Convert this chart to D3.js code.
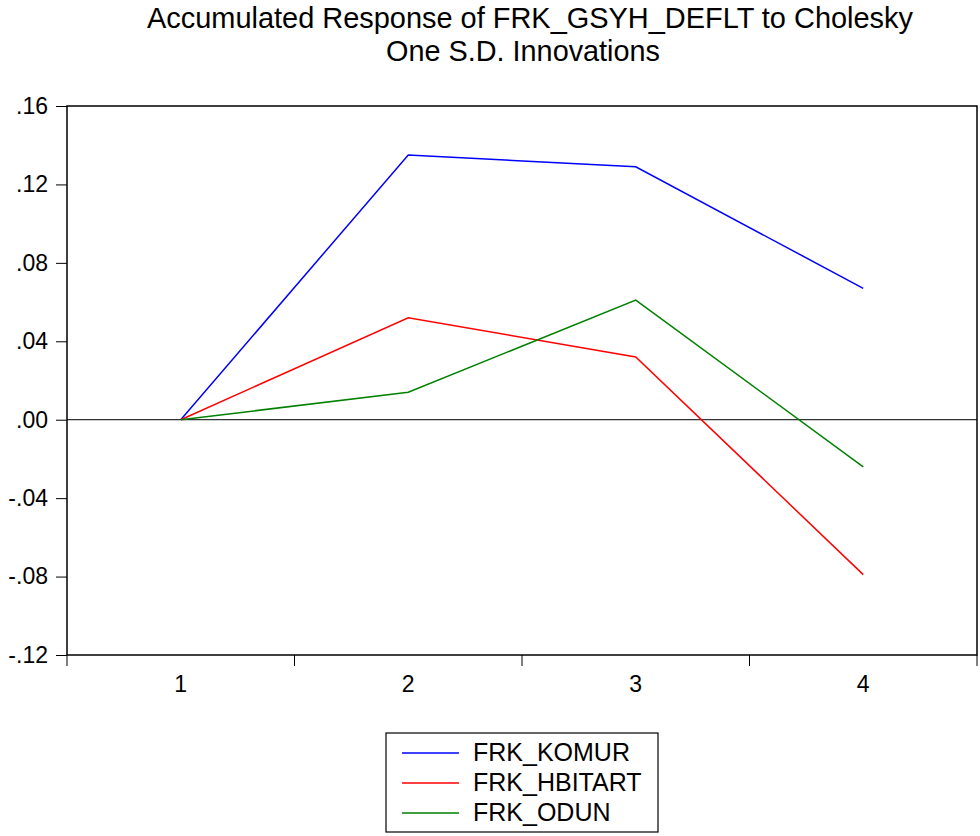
<!DOCTYPE html>
<html>
<head>
<meta charset="utf-8">
<script src="https://cdn.jsdelivr.net/npm/d3@7.9.0/dist/d3.min.js"></script>
<style>
  body { margin: 0; background: #fff; }
  svg { display: block; font-family: "Liberation Sans", Arial, sans-serif; }
</style>
</head>
<body>
<svg id="chart" width="980" height="836"></svg>
<script>
const periods = ["1", "2", "3", "4"];
const komur = [0, 0.135, 0.129, 0.067];
const hbitart = [0, 0.052, 0.032, -0.079];
const odun = [0, 0.014, 0.061, -0.024];
const seriesNames = ["FRK_KOMUR", "FRK_HBITART", "FRK_ODUN"];
const seriesColors = ["#0000ff", "#ff0000", "#008000"];
const yTicks = [-0.12, -0.08, -0.04, 0, 0.04, 0.08, 0.12, 0.16];

const series = [komur, hbitart, odun].map((values, i) => ({
  name: seriesNames[i], color: seriesColors[i], values
}));

const plotLeft = 67, plotRight = 977, plotTop = 106, plotBottom = 655;
const svg = d3.select("#chart");

const x = d3.scaleBand().domain(periods).range([plotLeft, plotRight]);
const y = d3.scaleLinear().domain([-0.12, 0.16]).range([plotBottom, plotTop]);

// title
const title = svg.append("g").attr("font-size", 30).attr("text-anchor", "middle");
title.append("text").attr("x", 530).attr("y", 28)
  .attr("textLength", 766).attr("lengthAdjust", "spacingAndGlyphs")
  .text("Accumulated Response of FRK_GSYH_DEFLT to Cholesky");
title.append("text").attr("x", 523).attr("y", 61)
  .attr("textLength", 274).attr("lengthAdjust", "spacingAndGlyphs")
  .text("One S.D. Innovations");

// zero line
svg.append("line")
  .attr("x1", plotLeft).attr("x2", plotRight)
  .attr("y1", y(0)).attr("y2", y(0))
  .attr("stroke", "#000").attr("stroke-width", 1);

// lines
const line = d3.line()
  .x((d, i) => x(periods[i]) + x.bandwidth() / 2)
  .y(d => y(d));

svg.selectAll("path.series")
  .data(series)
  .join("path")
  .attr("class", "series")
  .attr("d", d => line(d.values))
  .attr("fill", "none")
  .attr("stroke", d => d.color)
  .attr("stroke-width", 1.5);

// frame
svg.append("rect")
  .attr("x", plotLeft).attr("y", plotTop)
  .attr("width", plotRight - plotLeft).attr("height", plotBottom - plotTop)
  .attr("fill", "none").attr("stroke", "#000").attr("stroke-width", 1.5);

// y axis
const fmt = v => d3.format(".2f")(v).replace("−", "-").replace("0.", ".");
const yAxis = d3.axisLeft(y).tickValues(yTicks).tickFormat(fmt).tickSize(11).tickPadding(8);
const gy = svg.append("g").attr("transform", `translate(${plotLeft},0)`).call(yAxis);
gy.attr("font-size", 23).attr("font-family", null);
gy.select(".domain").remove();
gy.selectAll("line").attr("stroke", "#000").attr("stroke-width", 1);
gy.selectAll("text").attr("fill", "#000");

// x axis: ticks on band boundaries, labels at centres
const gx = svg.append("g");
const bounds = periods.map(p => x(p)).concat([x.range()[1]]);
gx.selectAll("line")
  .data(bounds)
  .join("line")
  .attr("x1", d => d).attr("x2", d => d)
  .attr("y1", plotBottom).attr("y2", plotBottom + 11)
  .attr("stroke", "#000").attr("stroke-width", 1);
gx.selectAll("text")
  .data(periods)
  .join("text")
  .attr("x", d => x(d) + x.bandwidth() / 2)
  .attr("y", 692)
  .attr("text-anchor", "middle")
  .attr("font-size", 23)
  .text(d => d);

// legend
const legend = svg.append("g");
legend.append("rect")
  .attr("x", 386).attr("y", 733).attr("width", 272).attr("height", 99)
  .attr("fill", "#fff").attr("stroke", "#000").attr("stroke-width", 1.2);
const item = legend.selectAll("g.item")
  .data(series)
  .join("g")
  .attr("class", "item")
  .attr("transform", (d, i) => `translate(0,${753 + i * 30})`);
item.append("line")
  .attr("x1", 402).attr("x2", 459)
  .attr("stroke", d => d.color).attr("stroke-width", 1.5);
item.append("text")
  .attr("x", 473).attr("y", 8)
  .attr("font-size", 25)
  .text(d => d.name);
</script>
</body>
</html>
